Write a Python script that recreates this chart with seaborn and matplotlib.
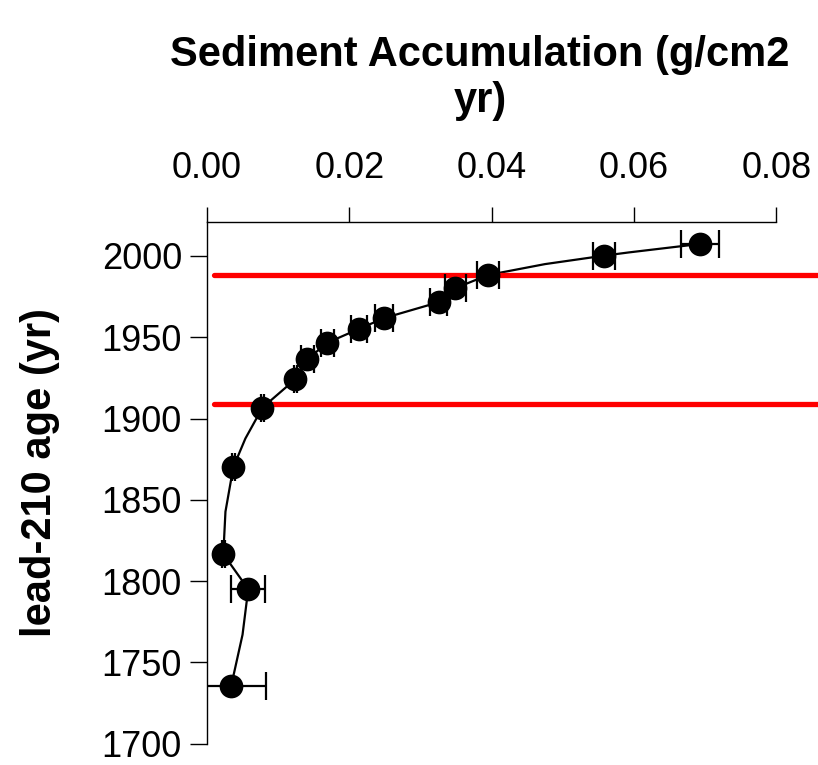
import numpy as np
import seaborn as sns
import matplotlib.pyplot as plt

# accumulation rate (g/cm2 yr) and lead-210 age (yr) for the dated samples
rate = [0.0693, 0.0558, 0.0395, 0.0349, 0.0326, 0.0249, 0.0214, 0.0169, 0.0141,
        0.0124, 0.0078, 0.0037, 0.0023, 0.0058, 0.0034]
age = [2007.4, 2000.2, 1988.3, 1980.2, 1971.6, 1961.8, 1955.2, 1946.6, 1936.4,
       1924.1, 1906.7, 1870.0, 1816.6, 1795.0, 1735.4]
rate_err = [0.0027, 0.0016, 0.0015, 0.0015, 0.0012, 0.0013, 0.0011, 0.0009, 0.0009,
            0.0002, 0.0002, 0.0002, 0.0002, 0.0024, 0.0049]

# curve through the samples (with a few extra points)
curve_rate = [0.0693, 0.0593, 0.0558, 0.0475, 0.0395, 0.0349, 0.0326, 0.0249, 0.0214,
              0.0169, 0.0141, 0.0124, 0.0078, 0.0054, 0.0037, 0.0026, 0.0023, 0.0058,
              0.0050, 0.0034]
curve_age = [2007.4, 2002.2, 2000.2, 1995.0, 1988.3, 1980.2, 1971.6, 1961.8, 1955.2,
             1946.6, 1936.4, 1924.1, 1906.7, 1887.7, 1870.0, 1842.7, 1816.6, 1795.0,
             1767.0, 1735.4]

# horizontal reference years
ref_years = [1988, 1909]

x_ticks = [0.00, 0.02, 0.04, 0.06, 0.08]
y_ticks = [1700, 1750, 1800, 1850, 1900, 1950, 2000]

sns.set_style('white')
plt.rcParams['font.family'] = ['Liberation Sans', 'DejaVu Sans']
plt.rcParams['text.color'] = 'black'

fig = plt.figure(figsize=(8.18, 7.65), dpi=100)
ax = fig.add_axes([0.253, 0.028, 0.696, 0.682])

sns.lineplot(x=curve_rate, y=curve_age, sort=False, estimator=None,
             color='black', linewidth=1.6, ax=ax)
ax.errorbar(rate, age, xerr=rate_err, fmt='none', ecolor='black',
            elinewidth=1.6, capsize=10, capthick=1.6, zorder=3)
sns.scatterplot(x=rate, y=age, s=250, color='black', edgecolor='black',
                zorder=5, ax=ax)

for yr in ref_years:
    ax.plot([0.001, 0.0862], [yr, yr], color='#ff0000', linewidth=3.8,
            clip_on=False, zorder=2)

ax.set_xlim(0, 0.08)
ax.set_ylim(1700, 2021)
ax.set_xticks(x_ticks)
ax.set_xticklabels([f'{v:.2f}' for v in x_ticks])
ax.set_yticks(y_ticks)
ax.xaxis.tick_top()
ax.tick_params(axis='x', top=True, bottom=False, direction='out', length=11,
               width=1, pad=15, labelsize=26, colors='black')
ax.tick_params(axis='y', left=True, direction='out', length=12, width=1,
               pad=6, labelsize=26, colors='black')

for side in ['right', 'bottom']:
    ax.spines[side].set_visible(False)
for side in ['top', 'left']:
    ax.spines[side].set_color('black')
    ax.spines[side].set_linewidth(1)

fig.text(0.587, 0.898, 'Sediment Accumulation (g/cm2\nyr)', ha='center', va='center',
         fontsize=30, fontweight='bold', linespacing=1.2)
fig.text(0.049, 0.383, 'lead-210 age (yr)', ha='center', va='center',
         rotation=90, fontsize=30, fontweight='bold')

fig.savefig('out.png', dpi=100)
